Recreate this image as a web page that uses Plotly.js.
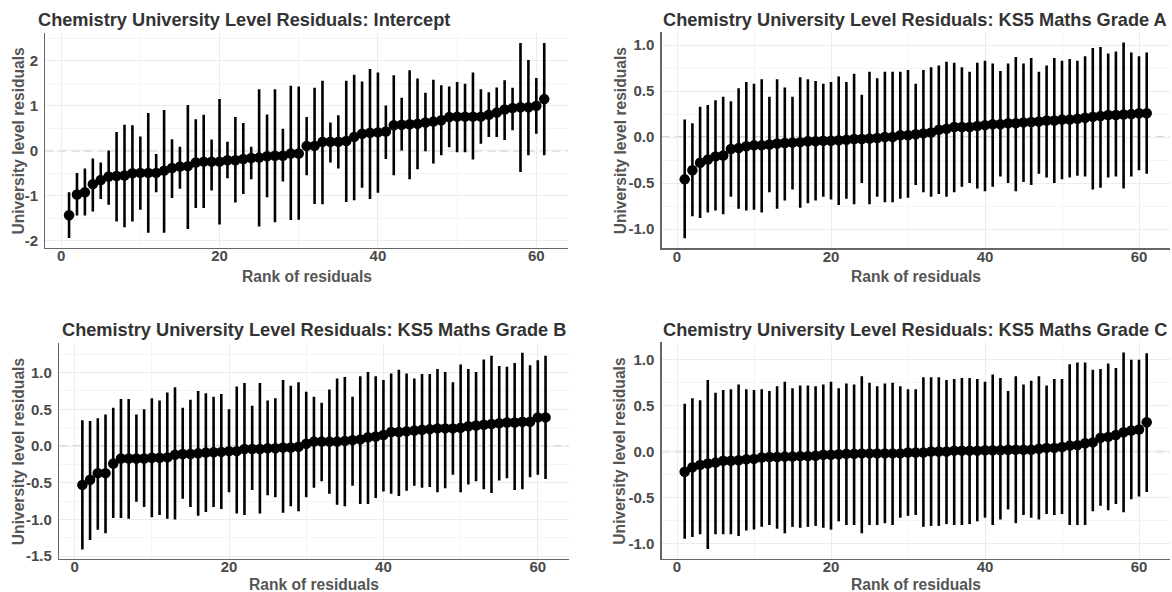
<!DOCTYPE html>
<html>
<head>
<meta charset="utf-8">
<script src="https://cdn.plot.ly/plotly-3.0.1.min.js"></script>
<style>html,body{margin:0;padding:0;background:#fff;}#chart{width:1172px;height:592px;}</style>
</head>
<body>
<div id="chart"></div>
<script>
// Rank of residuals (1..61)
const ranks = [1,2,3,4,5,6,7,8,9,10,11,12,13,14,15,16,17,18,19,20,21,22,23,24,25,26,27,28,29,30,
  31,32,33,34,35,36,37,38,39,40,41,42,43,44,45,46,47,48,49,50,51,52,53,54,55,56,57,58,59,60,61];

// Panel titles
const panelTitles = [
  "Chemistry University Level Residuals: Intercept",
  "Chemistry University Level Residuals: KS5 Maths Grade A",
  "Chemistry University Level Residuals: KS5 Maths Grade B",
  "Chemistry University Level Residuals: KS5 Maths Grade C"
];
const xAxisTitle = "Rank of residuals";
const yAxisTitle = "University level residuals";

// Tick labels
const xTickVals = [0, 20, 40, 60];
const xTickText = ["0", "20", "40", "60"];
const yTickVals1 = [-2, -1, 0, 1, 2];
const yTickText1 = ["-2", "-1", "0", "1", "2"];
const yTickVals2 = [-1, -0.5, 0, 0.5, 1];
const yTickText2 = ["-1.0", "-0.5", "0.0", "0.5", "1.0"];
const yTickVals3 = [-1.5, -1, -0.5, 0, 0.5, 1];
const yTickText3 = ["-1.5", "-1.0", "-0.5", "0.0", "0.5", "1.0"];
const yTickVals4 = [-1, -0.5, 0, 0.5, 1];
const yTickText4 = ["-1.0", "-0.5", "0.0", "0.5", "1.0"];

// Intercept
const est1 = [-1.43,-0.97,-0.92,-0.74,-0.65,-0.57,-0.56,-0.55,-0.50,-0.49,-0.49,-0.49,-0.44,-0.38,-0.35,-0.34,-0.26,-0.24,-0.24,-0.24,-0.21,-0.21,-0.18,-0.16,-0.15,-0.12,-0.11,-0.11,-0.06,-0.06,
  0.11,0.11,0.20,0.20,0.20,0.22,0.31,0.38,0.40,0.41,0.43,0.57,0.58,0.59,0.60,0.63,0.65,0.68,0.75,0.76,0.76,0.76,0.76,0.80,0.85,0.92,0.95,0.97,0.97,1.00,1.15];
const up1 = [-0.92,-0.49,-0.39,-0.17,-0.26,0.01,0.42,0.58,0.57,0.32,0.84,-0.07,0.91,0.26,0.09,1.02,0.70,0.80,0.25,1.15,0.20,0.75,0.62,0.09,1.37,0.81,1.37,0.49,1.45,1.43,
  0.75,1.40,1.56,0.63,0.79,1.56,1.69,1.54,1.82,1.74,1.01,1.68,1.18,1.79,1.61,1.29,1.58,1.46,1.43,1.53,1.49,1.74,1.37,1.30,1.41,1.57,1.40,2.40,2.02,1.62,2.40];
const lo1 = [-1.94,-1.44,-1.44,-1.35,-1.07,-1.20,-1.57,-1.70,-1.57,-1.31,-1.82,-0.92,-1.82,-1.05,-0.84,-1.74,-1.27,-1.27,-0.88,-1.64,-0.61,-1.15,-0.96,-0.63,-1.68,-1.03,-1.59,-0.68,-1.54,-1.53,
  -0.54,-1.18,-1.19,-0.26,-0.39,-1.14,-1.10,-0.82,-1.07,-0.93,-0.18,-0.54,0.01,-0.63,-0.41,-0.01,-0.28,-0.10,0.08,-0.03,-0.03,-0.19,0.16,0.31,0.31,0.24,0.46,-0.47,-0.10,0.38,-0.10];

// KS5 Maths Grade A
const est2 = [-0.46,-0.36,-0.28,-0.245,-0.21,-0.20,-0.13,-0.12,-0.10,-0.09,-0.09,-0.08,-0.07,-0.065,-0.06,-0.055,-0.045,-0.045,-0.04,-0.04,-0.035,-0.03,-0.02,-0.02,-0.015,-0.01,0.0,
  0.00,0.02,0.02,0.03,0.04,0.05,0.08,0.09,0.11,0.11,0.11,0.12,0.13,0.14,0.14,0.15,0.15,0.16,0.165,0.17,0.18,0.18,0.19,0.19,0.20,0.21,0.22,0.23,0.24,0.24,0.245,0.25,0.26,0.26];
const up2 = [0.19,0.15,0.33,0.35,0.40,0.44,0.39,0.53,0.60,0.58,0.63,0.44,0.63,0.54,0.44,0.65,0.63,0.61,0.58,0.60,0.66,0.60,0.69,0.46,0.71,0.64,0.71,
  0.71,0.71,0.73,0.58,0.73,0.76,0.78,0.82,0.81,0.76,0.71,0.81,0.83,0.80,0.72,0.80,0.87,0.80,0.86,0.71,0.78,0.86,0.83,0.85,0.83,0.88,0.97,0.98,0.91,0.93,1.03,0.92,0.88,0.92];
const lo2 = [-1.10,-0.86,-0.88,-0.82,-0.80,-0.84,-0.65,-0.78,-0.80,-0.79,-0.82,-0.60,-0.78,-0.69,-0.57,-0.77,-0.72,-0.69,-0.65,-0.68,-0.74,-0.67,-0.73,-0.50,-0.73,-0.65,-0.71,
  -0.71,-0.67,-0.66,-0.52,-0.60,-0.65,-0.62,-0.65,-0.60,-0.54,-0.50,-0.56,-0.59,-0.54,-0.43,-0.50,-0.59,-0.49,-0.52,-0.40,-0.44,-0.50,-0.46,-0.44,-0.42,-0.43,-0.57,-0.55,-0.44,-0.43,-0.56,-0.43,-0.36,-0.40];

// KS5 Maths Grade B
const est3 = [-0.53,-0.46,-0.37,-0.37,-0.24,-0.17,-0.17,-0.17,-0.17,-0.16,-0.16,-0.155,-0.12,-0.11,-0.11,-0.10,-0.09,-0.085,-0.08,-0.07,-0.07,-0.04,-0.04,-0.04,-0.03,-0.03,-0.02,-0.02,-0.01,0.03,
  0.06,0.06,0.06,0.06,0.07,0.08,0.09,0.12,0.13,0.15,0.19,0.19,0.20,0.21,0.22,0.23,0.24,0.24,0.24,0.25,0.27,0.28,0.29,0.30,0.31,0.32,0.32,0.33,0.33,0.39,0.39];
const up3 = [0.35,0.34,0.38,0.43,0.52,0.64,0.64,0.43,0.50,0.65,0.62,0.73,0.80,0.52,0.63,0.75,0.72,0.67,0.71,0.50,0.81,0.86,0.55,0.86,0.62,0.65,0.90,0.82,0.87,0.74,
  0.67,0.59,0.77,0.92,0.94,0.67,0.95,1.01,0.95,0.90,0.99,1.04,0.99,0.92,0.98,0.98,1.05,1.01,0.87,1.11,1.05,1.01,1.18,1.23,1.09,1.08,1.13,1.27,1.10,1.17,1.23];
const lo3 = [-1.41,-1.28,-1.14,-1.19,-0.98,-0.98,-0.99,-0.76,-0.83,-0.97,-0.94,-0.99,-1.00,-0.72,-0.83,-0.95,-0.90,-0.83,-0.86,-0.63,-0.92,-0.94,-0.60,-0.92,-0.67,-0.70,-0.91,-0.82,-0.89,-0.70,
  -0.57,-0.48,-0.65,-0.80,-0.82,-0.54,-0.79,-0.79,-0.71,-0.62,-0.65,-0.68,-0.61,-0.54,-0.57,-0.56,-0.63,-0.575,-0.39,-0.63,-0.525,-0.48,-0.59,-0.64,-0.47,-0.44,-0.60,-0.59,-0.425,-0.39,-0.45];

// KS5 Maths Grade C
const est4 = [-0.22,-0.17,-0.145,-0.13,-0.12,-0.10,-0.10,-0.095,-0.085,-0.08,-0.065,-0.06,-0.06,-0.055,-0.055,-0.05,-0.05,-0.045,-0.035,-0.035,-0.03,-0.025,-0.025,-0.02,-0.02,-0.02,-0.02,
  -0.02,-0.02,-0.01,-0.01,-0.01,0.0,0.0,0.0,0.01,0.01,0.01,0.01,0.015,0.015,0.015,0.02,0.02,0.02,0.02,0.03,0.04,0.04,0.05,0.065,0.07,0.09,0.10,0.15,0.16,0.18,0.21,0.23,0.24,0.32];
const up4 = [0.52,0.58,0.56,0.78,0.64,0.67,0.68,0.73,0.68,0.67,0.68,0.66,0.71,0.76,0.69,0.72,0.72,0.71,0.73,0.76,0.69,0.74,0.73,0.82,0.75,0.71,0.74,
  0.75,0.71,0.68,0.68,0.81,0.81,0.81,0.78,0.79,0.80,0.80,0.79,0.76,0.84,0.80,0.66,0.82,0.73,0.77,0.82,0.72,0.79,0.79,0.95,0.97,0.97,0.89,0.90,0.96,0.91,1.08,1.00,1.00,1.07];
const lo4 = [-0.95,-0.93,-0.90,-1.06,-0.90,-0.90,-0.90,-0.92,-0.86,-0.85,-0.82,-0.80,-0.84,-0.89,-0.82,-0.83,-0.82,-0.81,-0.83,-0.85,-0.76,-0.80,-0.80,-0.89,-0.80,-0.80,-0.78,
  -0.80,-0.72,-0.70,-0.69,-0.82,-0.81,-0.81,-0.79,-0.80,-0.80,-0.79,-0.76,-0.72,-0.80,-0.74,-0.63,-0.78,-0.69,-0.72,-0.74,-0.68,-0.69,-0.68,-0.80,-0.80,-0.80,-0.65,-0.59,-0.64,-0.57,-0.66,-0.52,-0.49,-0.44];

// Layout geometry (pixels)
const panels = [
  {est: est1, up: up1, lo: lo1, yr: [-2.16, 2.62], tv: yTickVals1, tt: yTickText1, xd: [45.3, 568.0],  yd: [33.0, 248.0],  minor: [-1.5, -0.5, 0.5, 1.5, 2.5]},
  {est: est2, up: up2, lo: lo2, yr: [-1.21, 1.14], tv: yTickVals2, tt: yTickText2, xd: [661.6, 1169.8], yd: [32.3, 248.3],  minor: [-0.75, -0.25, 0.25, 0.75]},
  {est: est3, up: up3, lo: lo3, yr: [-1.54, 1.40], tv: yTickVals3, tt: yTickText3, xd: [59.2, 568.7],  yd: [343.3, 559.0], minor: [-1.25, -0.75, -0.25, 0.25, 0.75, 1.25]},
  {est: est4, up: up4, lo: lo4, yr: [-1.17, 1.19], tv: yTickVals4, tt: yTickText4, xd: [661.6, 1169.8], yd: [342.3, 559.0], minor: [-0.75, -0.25, 0.25, 0.75]}
];
const titlePos = [[36, 20], [661, 20], [59.5, 330], [661, 330]];
const xTitleY = [276, 276, 584.5, 584.5];
const yTitleX = [18, 620, 18, 620];

const W = 1172, H = 592;
const FONT = "Liberation Sans, Arial, sans-serif";
const traces = [];
const layout = {
  width: W, height: H,
  margin: {l: 0, r: 0, t: 0, b: 0},
  paper_bgcolor: "#ffffff",
  plot_bgcolor: "#ffffff",
  showlegend: false,
  font: {family: FONT, color: "#444"},
  annotations: [],
  shapes: []
};

panels.forEach((p, i) => {
  const n = i + 1;
  const xa = "x" + (n === 1 ? "" : n);
  const ya = "y" + (n === 1 ? "" : n);
  traces.push({
    type: "scatter", mode: "markers",
    x: ranks, y: p.est,
    xaxis: xa, yaxis: ya,
    marker: {color: "#000000", size: 10.5},
    error_y: {
      type: "data", symmetric: false,
      array: p.est.map((v, k) => p.up[k] - v),
      arrayminus: p.est.map((v, k) => v - p.lo[k]),
      color: "#000000", thickness: 2.6, width: 0
    },
    hoverinfo: "x+y"
  });
  const xkey = "xaxis" + (n === 1 ? "" : n);
  const ykey = "yaxis" + (n === 1 ? "" : n);
  layout[xkey] = {
    domain: [p.xd[0] / W, p.xd[1] / W],
    anchor: ya,
    range: [-2, 64],
    tickvals: xTickVals,
    ticktext: xTickText,
    showgrid: true, gridcolor: "#ececec", gridwidth: 1,
    minor: {tickvals: [10, 30, 50], showgrid: true, gridcolor: "#f5f5f5", gridwidth: 1},
    zeroline: false,
    showline: true, linecolor: "#666666", linewidth: 1.3,
    ticks: "", ticklabelstandoff: -6,
    tickfont: {family: FONT, size: 15, color: "#4a4a4a", weight: "bold"},
    automargin: false,
    fixedrange: true
  };
  layout[ykey] = {
    domain: [1 - p.yd[1] / H, 1 - p.yd[0] / H],
    anchor: xa,
    range: p.yr,
    tickvals: p.tv,
    ticktext: p.tt,
    showgrid: true, gridcolor: "#ececec", gridwidth: 1,
    minor: {tickvals: p.minor, showgrid: true, gridcolor: "#f5f5f5", gridwidth: 1},
    zeroline: false,
    showline: true, linecolor: "#666666", linewidth: 1.3,
    ticks: "", ticklabelstandoff: 3,
    tickfont: {family: FONT, size: 15, color: "#4a4a4a", weight: "bold"},
    automargin: false,
    fixedrange: true
  };
  layout.shapes.push({
    type: "line", xref: xa, yref: ya, x0: -2, x1: 64, y0: 0, y1: 0,
    line: {color: "#d6d6d6", width: 2, dash: "8px,5px"}, layer: "below"
  });
  // panel title
  layout.annotations.push({
    text: panelTitles[i], showarrow: false,
    xref: "paper", yref: "paper",
    x: titlePos[i][0] / W, y: 1 - titlePos[i][1] / H,
    xanchor: "left", yanchor: "middle",
    font: {family: FONT, size: 18.2, color: "#333333", weight: "bold"}
  });
  // x axis title
  layout.annotations.push({
    text: xAxisTitle, showarrow: false,
    xref: "paper", yref: "paper",
    x: (p.xd[0] + p.xd[1]) / 2 / W, y: 1 - xTitleY[i] / H,
    xanchor: "center", yanchor: "middle",
    font: {family: FONT, size: 15.6, color: "#555555", weight: "bold"}
  });
  // y axis title
  layout.annotations.push({
    text: yAxisTitle, showarrow: false, textangle: -90,
    xref: "paper", yref: "paper",
    x: yTitleX[i] / W, y: 1 - (p.yd[0] + p.yd[1]) / 2 / H,
    xanchor: "center", yanchor: "middle",
    font: {family: FONT, size: 15.6, color: "#555555", weight: "bold"}
  });
});

Plotly.newPlot("chart", traces, layout, {displayModeBar: false, staticPlot: true});
</script>
</body>
</html>
